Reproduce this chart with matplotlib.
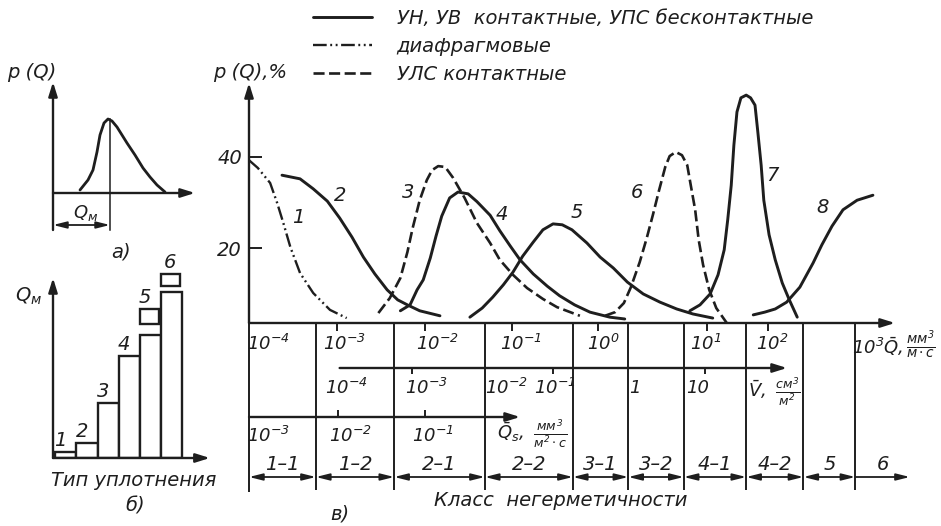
import matplotlib
matplotlib.use("Agg")
import matplotlib.pyplot as plt
from matplotlib import font_manager

W, H = 941, 526
INK = "#1e1e1e"

installed = {f.name for f in font_manager.fontManager.ttflist}
FONT = next(f for f in ["Liberation Sans Narrow", "DejaVu Sans Condensed", "DejaVu Sans"]
            if f in installed)

plt.rcParams.update({
    "font.family": [FONT, "DejaVu Sans"],
    "font.style": "italic",
    "mathtext.fontset": "custom",
    "mathtext.rm": f"{FONT}:italic",
    "mathtext.it": f"{FONT}:italic",
    "mathtext.sf": f"{FONT}:italic",
    "text.color": INK,
    "axes.edgecolor": INK,
    "ytick.color": INK,
    "xtick.color": INK,
})

# ---------------- panel а): density of leakage p(Q), arbitrary units
dens_q = [27, 35, 40, 44, 47, 51, 55, 59, 64, 74, 82, 90, 97, 104, 112]
dens_p = [3, 13, 23, 41, 58, 70, 74, 72, 66, 50, 38, 25, 16, 8, 1]
q_mode = 57

# ---------------- panel б): modal leakage by seal type
seal_types = [1, 2, 3, 4, 5, 6]
seal_labels = ["1", "2", "3", "4", "5", "6"]
qm_values = [6, 15, 55, 102, 123, 166]
spread_types = [5, 6]
spread_low = [134, 172]
spread_high = [149, 184]

# ---------------- panel в): p(Q), % versus position on the log10(Q̄) scale
c1_x = [-4.00, -3.90, -3.76, -3.68, -3.61, -3.53, -3.42, -3.27, -3.08, -2.89]
c1_y = [39.3, 37.6, 34.3, 29.9, 25.5, 20.2, 14.5, 10.1, 6.4, 4.6]
c2_x = [-3.625, -3.42, -3.27, -3.11, -2.97, -2.83, -2.70, -2.57, -2.43, -2.31, -2.20, -2.06, -1.83]
c2_y = [36.0, 35.2, 33.0, 30.3, 26.6, 22.4, 18.0, 14.3, 10.8, 8.6, 7.5, 6.2, 5.1]
c3_x = [-2.53, -2.40, -2.28, -2.20, -2.14, -2.06, -1.98, -1.92, -1.85, -1.77, -1.68, -1.55,
        -1.41, -1.26, -1.15, -1.00, -0.84, -0.66, -0.50, -0.24]
c3_y = [5.7, 9.0, 13.4, 19.1, 24.4, 30.5, 34.9, 37.1, 38.0, 37.8, 35.4, 31.0,
        25.5, 21.1, 17.4, 14.1, 11.2, 8.8, 7.0, 5.1]
c4_x = [-2.28, -2.17, -2.09, -2.02, -1.94, -1.875, -1.81, -1.72, -1.625, -1.51, -1.41, -1.26,
        -1.15, -1.03, -0.92, -0.77, -0.61, -0.47, -0.30, -0.125, 0.10, 0.27]
c4_y = [6.2, 7.5, 10.8, 13.0, 17.8, 22.6, 27.0, 31.0, 32.3, 31.9, 30.2, 27.2,
        23.8, 20.4, 17.4, 14.3, 11.6, 9.5, 7.5, 5.9, 4.8, 4.4]
c5_x = [-1.49, -1.35, -1.23, -1.11, -1.00, -0.89, -0.77, -0.66, -0.545, -0.44, -0.33, -0.16,
        -0.01, 0.14, 0.30, 0.48, 0.67, 0.86, 1.045, 1.27]
c5_y = [4.8, 6.8, 9.2, 11.9, 14.7, 18.2, 21.3, 24.0, 25.3, 25.1, 24.0, 21.1,
        18.0, 15.6, 12.5, 9.9, 8.1, 6.6, 5.5, 4.6]
c6_x = [0.045, 0.16, 0.26, 0.34, 0.44, 0.52, 0.59, 0.66, 0.73, 0.78, 0.85, 0.92,
        0.98, 1.02, 1.07, 1.11, 1.16, 1.23, 1.31, 1.43]
c6_y = [5.1, 5.9, 7.9, 11.4, 16.9, 22.2, 27.3, 32.7, 37.8, 40.2, 41.1, 40.4,
        38.2, 33.8, 28.4, 21.8, 16.3, 10.8, 6.8, 3.5]
c7_x = [1.01, 1.125, 1.24, 1.33, 1.40, 1.44, 1.48, 1.51, 1.545, 1.59, 1.65, 1.70, 1.75,
        1.78, 1.82, 1.85, 1.91, 1.98, 2.06, 2.14, 2.23]
c7_y = [6.2, 7.5, 9.9, 14.1, 19.6, 26.2, 33.8, 42.6, 49.9, 53.0, 53.6, 53.0, 51.4,
        45.9, 38.2, 30.5, 22.9, 17.4, 12.3, 8.6, 4.8]
c8_x = [1.73, 1.86, 1.98, 2.11, 2.26, 2.41, 2.51, 2.625, 2.75, 2.91, 3.09]
c8_y = [5.3, 5.9, 6.6, 8.1, 11.4, 16.7, 20.7, 24.8, 28.4, 30.5, 31.6]

curve_names = ["1", "2", "3", "4", "5", "6", "7", "8"]
name_x = [-3.44, -2.97, -2.19, -1.125, -0.27, 0.41, 1.95, 2.52]
name_y = [26.8, 31.6, 32.1, 27.3, 27.7, 32.3, 36.0, 29.0]
p_ticks = [20, 40]

legend_labels = ["УН, УВ  контактные, УПС бесконтактные",
                 "диафрагмовые",
                 "УЛС контактные"]

# scales under the graph (positions on the same horizontal axis)
q_labels = ["$10^{-4}$", "$10^{-3}$", "$10^{-2}$", "$10^{-1}$", "$10^{0}$", "$10^{1}$", "$10^{2}$"]
q_label_x = [-3.78, -2.91, -1.86, -0.91, 0.03, 1.19, 1.95]
q_tick_x = [-3.0, -2.0, -1.01, -0.03, 1.2, 1.9]
v_labels = ["$10^{-4}$", "$10^{-3}$", "$10^{-2}$", "$10^{-1}$", "1", "10"]
v_label_x = [-2.89, -1.98, -1.07, -0.52, 0.39, 1.10]
v_tick_x = [-2.15, -0.55, 1.18]
qs_labels = ["$10^{-3}$", "$10^{-2}$", "$10^{-1}$"]
qs_label_x = [-3.78, -2.85, -1.91]
qs_tick_x = [-2.99, -2.0]
class_edges = [-4.0, -3.24, -2.35, -1.32, -0.32, 0.31, 0.94, 1.65, 2.30, 2.89, 3.51]
class_labels = ["1–1", "1–2", "2–1", "2–2", "3–1", "3–2", "4–1", "4–2", "5", "6"]

# ------------------------------------------------------------------ figure
fig = plt.figure(figsize=(W / 100, H / 100), dpi=100)
fig.patch.set_facecolor("white")


def box(x0, y0, x1, y1):
    return [x0 / W, 1 - y1 / H, (x1 - x0) / W, (y1 - y0) / H]


def fig_text(x, y, s, **kw):
    kw.setdefault("ha", "center")
    kw.setdefault("va", "center")
    fig.text(x / W, 1 - y / H, s, **kw)


ARROW = dict(arrowstyle="-|>,head_length=0.7,head_width=0.22", color=INK, lw=1.7,
             mutation_scale=12, shrinkA=0, shrinkB=0)
DIM = dict(arrowstyle="<|-|>,head_length=0.8,head_width=0.2", color=INK, lw=1.3,
           mutation_scale=10, shrinkA=0, shrinkB=0)
LEFT_DIM = dict(arrowstyle="<|-,head_length=0.8,head_width=0.2", color=INK, lw=1.3,
                mutation_scale=10, shrinkA=0, shrinkB=0)


def arrow(ax, x0, y0, x1, y1, style=ARROW):
    ax.annotate("", xy=(x1, y1), xytext=(x0, y0), arrowprops=style, annotation_clip=False)


# ---------------- panel а)
ax_a = fig.add_axes(box(53, 80, 203, 232))
ax_a.set_xlim(0, 150)
ax_a.set_ylim(-39, 113)
ax_a.axis("off")
ax_a.plot(dens_q, dens_p, color=INK, lw=2.0, solid_capstyle="round")
arrow(ax_a, 0, -37, 0, 111)
arrow(ax_a, 0, 0, 142, 0)
ax_a.plot([q_mode, q_mode], [-37, max(dens_p)], color=INK, lw=1.1)
arrow(ax_a, 0, -32, q_mode, -32, DIM)
ax_a.text(q_mode * 0.58, -20, "$Q_м$", ha="center", va="center", fontsize=13)
fig_text(32, 72, "p (Q)", fontsize=14)
fig_text(121, 252, "а)", fontsize=14)

# ---------------- panel б)
ax_b = fig.add_axes(box(53, 270, 215, 458))
ax_b.set_xlim(0.4, 0.4 + 162 / 21.2)
ax_b.set_ylim(0, 188)
ax_b.axis("off")
ax_b.bar(seal_types, qm_values, width=1.0, color="white", edgecolor=INK, lw=1.7, zorder=2)
ax_b.bar([t - 0.05 for t in spread_types],
         [hi - lo for lo, hi in zip(spread_low, spread_high)],
         bottom=spread_low, width=0.88, color="white", edgecolor=INK, lw=1.7, zorder=2)
tops = list(qm_values)
for t, hi in zip(spread_types, spread_high):
    tops[t - 1] = hi
for t, top, lab in zip(seal_types, tops, seal_labels):
    ax_b.text(t - 0.25 if t < 6 else t - 0.08, top + 2, lab, ha="center", va="bottom",
              fontsize=14, clip_on=False)
arrow(ax_b, 0.4, 0, 0.4, 180)
arrow(ax_b, 0.4, 0, 7.8, 0)
fig_text(29, 296, "$Q_м$", fontsize=14)
fig_text(134, 480, "Тип уплотнения", fontsize=14)
fig_text(135, 506, "б)", fontsize=14)

# ---------------- panel в): curves
y_bottom = (339 - 323) / 4.55
ax = fig.add_axes(box(249, 80, 941, 323))
ax.set_xlim(-4, -4 + (941 - 249) / 88)
ax.set_ylim(y_bottom, (339 - 80) / 4.55)
for s in ax.spines.values():
    s.set_visible(False)
ax.set_xticks([])
ax.set_yticks(p_ticks)
ax.set_yticklabels([str(v) for v in p_ticks])
ax.tick_params(axis="y", direction="in", length=9, width=1.4, pad=5, labelsize=14)

solid = dict(color=INK, lw=2.1, solid_capstyle="round", solid_joinstyle="round")
dashed = dict(color=INK, lw=1.9, dashes=(4.2, 1.7))
dashdot = dict(color=INK, lw=1.7, dashes=(5.8, 1.5, 0.8, 1.5, 0.8, 1.5))

l1, = ax.plot(c1_x, c1_y, **dashdot)
l2, = ax.plot(c2_x, c2_y, **solid)
l3, = ax.plot(c3_x, c3_y, **dashed)
ax.plot(c4_x, c4_y, **solid)
ax.plot(c5_x, c5_y, **solid)
ax.plot(c6_x, c6_y, **dashed)
ax.plot(c7_x, c7_y, **solid)
ax.plot(c8_x, c8_y, **solid)
for nx, ny, nm in zip(name_x, name_y, curve_names):
    ax.text(nx, ny, nm, ha="center", va="center", fontsize=14)

arrow(ax, -4, y_bottom, -4, (339 - 83) / 4.55)
fig_text(250, 72, "p (Q),%", fontsize=14)

fig.legend(handles=[l2, l1, l3], labels=legend_labels, loc="upper left",
           bbox_to_anchor=(313 / W, 1 - 9 / H), frameon=False, borderpad=0,
           borderaxespad=0, handlelength=3.05, handletextpad=1.25, labelspacing=0.45,
           fontsize=14)

# ---------------- panel в): scales and leak-tightness classes
ax_t = fig.add_axes(box(249, 323, 941, 526))
ax_t.set_xlim(ax.get_xlim())
ax_t.set_ylim(526, 323)
ax_t.axis("off")

line_kw = dict(color=INK, lw=1.4, clip_on=False)
ax_t.vlines([class_edges[0]], 323, 492, **line_kw)
ax_t.vlines(class_edges[1:-1], 323, 490, **line_kw)
arrow(ax_t, -4, 323, -4 + (895 - 249) / 88, 323)

# Q̄ scale
ax_t.vlines(q_tick_x, 323, 331, **line_kw)
for lx, lab in zip(q_label_x, q_labels):
    ax_t.text(lx, 344, lab, ha="center", va="center", fontsize=13)
ax_t.text(2.85, 347, r"$10^3\bar{Q},$", ha="left", va="center", fontsize=13)
ax_t.text(3.47, 345, r"$\frac{мм^3}{м\cdot с}$", ha="left", va="center", fontsize=14)

# V̄ scale
arrow(ax_t, -2.97, 368, -4 + (787 - 249) / 88, 368)
ax_t.vlines(v_tick_x, 368, 374, **line_kw)
for lx, lab in zip(v_label_x, v_labels):
    ax_t.text(lx, 388, lab, ha="center", va="center", fontsize=13)
ax_t.text(1.67, 392, r"$\bar{V},\ \frac{см^3}{м^2}$", ha="left", va="center", fontsize=13)

# Q̄s scale
arrow(ax_t, -4, 417, -0.92, 417)
ax_t.vlines(qs_tick_x, 410, 417, **line_kw)
for lx, lab in zip(qs_label_x, qs_labels):
    ax_t.text(lx, 436, lab, ha="center", va="center", fontsize=13)
ax_t.text(-1.18, 434, r"$\bar{Q}_s,\ \frac{мм^3}{м^2\cdot с}$", ha="left", va="center",
          fontsize=13)

# class dimension chain
for i, lab in enumerate(class_labels):
    a, b = class_edges[i], class_edges[i + 1]
    if i < len(class_labels) - 1:
        arrow(ax_t, a, 477, b, 477, DIM)
    else:
        arrow(ax_t, b, 477, a, 477, LEFT_DIM)
    ax_t.text((a + b) / 2, 464, lab, ha="center", va="center", fontsize=14)

fig_text(561, 500, "Класс  негерметичности", fontsize=14)
fig_text(340, 514, "в)", fontsize=14)

fig.savefig("out.png", dpi=100, facecolor="white")
